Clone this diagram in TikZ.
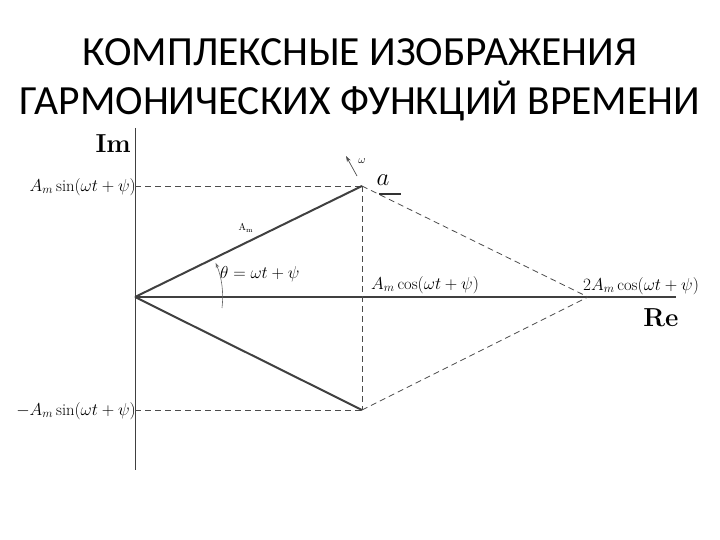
\documentclass[tikz,border=0pt]{standalone}
\usepackage{fontspec}
\newfontfamily\titlefont{Carlito}
\usetikzlibrary{arrows.meta}
\begin{document}
\begin{tikzpicture}[x=1pt,y=-1pt,
  axisline/.style={draw=black!75,line width=2pt},
  vecline/.style={draw=black!75,line width=2pt},
  dashline/.style={draw=black!70,line width=0.8pt,dash pattern=on 6pt off 4pt},
  lbl/.style={inner sep=0pt,font=\fontsize{16.5}{19}\selectfont},
  titletext/.style={font=\titlefont\fontsize{41.5}{48}\selectfont,inner sep=0pt}]
\useasboundingbox (0,0) rectangle (720,540);
\node[titletext] (title1) at (360,52) {КОМПЛЕКСНЫЕ ИЗОБРАЖЕНИЯ};
\node[titletext] (title2) at (360,101) {ГАРМОНИЧЕСКИХ ФУНКЦИЙ ВРЕМЕНИ};
\coordinate (o) at (135,297);
\coordinate (imtop) at (135,128);
\coordinate (imbot) at (135,470);
\coordinate (reend) at (676,297);
\coordinate (a) at (362,186);
\coordinate (ac) at (362,410);
\coordinate (s) at (588,297);
\coordinate (ya) at (135,186);
\coordinate (yc) at (135,410);
% axes
\draw[draw=black!75,line width=1pt] (imtop) -- (imbot);
\draw[axisline] (o) -- (reend);
% dashed
\draw[dashline] (ya) -- (a);
\draw[dashline] (yc) -- (ac);
\draw[dashline] (a) -- (ac);
\draw[dashline] (a) -- (s);
\draw[dashline] (ac) -- (s);
% vectors
\draw[vecline] (o) -- (a);
\draw[vecline] (o) -- (ac);
% angle arc
\draw[draw=black!60,line width=0.6pt,-{Stealth[length=5pt,width=3.5pt]}] (222,308) arc[start angle=7,end angle=-23,radius=88];
% omega arrow
\coordinate (w1) at (357,176);
\coordinate (w2) at (346,156);
\draw[draw=black!70,line width=0.7pt,-{Stealth[length=6pt,width=4pt]}] (w1) -- (w2);
\node[lbl,font=\fontsize{11}{12}\selectfont] (wl) at (362,161) {$\omega$};
% a label
\node[lbl,font=\fontsize{26}{28}\selectfont] (al) at (383,180) {$a$};
\coordinate (ub1) at (379,194);
\coordinate (ub2) at (401,194);
\draw[draw=black!80,line width=1.4pt] (ub1) -- (ub2);
% labels
\node[lbl,font=\bfseries\fontsize{26}{29}\selectfont,anchor=east] (im) at (131,144) {Im};
\node[lbl,font=\bfseries\fontsize{26}{29}\selectfont] (re) at (661,318) {Re};
\node[lbl,anchor=east] (sinl) at (136,187) {$A_m\sin\!\left(\omega t+\psi\right)$};
\node[lbl,anchor=east] (msinl) at (136,411) {$-A_m\sin\!\left(\omega t+\psi\right)$};
\node[lbl,anchor=west] (cosl) at (371,285) {$A_m\cos\!\left(\omega t+\psi\right)$};
\node[lbl,anchor=west] (cos2l) at (583,286) {$2A_m\cos\!\left(\omega t+\psi\right)$};
\node[lbl,font=\fontsize{10}{11}\selectfont] (aml) at (246,228) {A$_\mathrm{m}$};
\node[lbl,anchor=west] (thl) at (220,274) {$\theta=\omega t+\psi$};
\end{tikzpicture}
\end{document}
